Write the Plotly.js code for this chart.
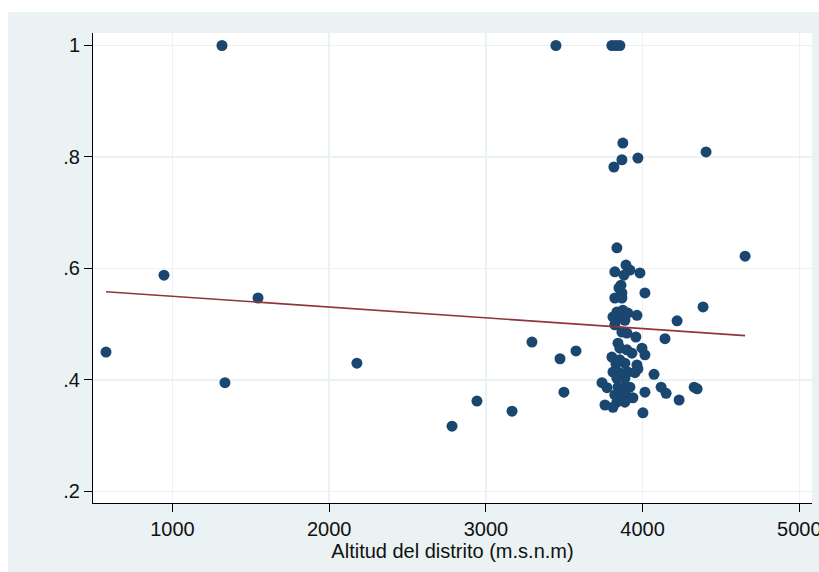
<!DOCTYPE html>
<html>
<head>
<meta charset="utf-8">
<script src="https://cdn.plot.ly/plotly-3.0.1.min.js"></script>
<style>
  html, body { margin: 0; padding: 0; background: #ffffff; overflow: hidden; }
  #chart { position: absolute; left: 8px; top: 12px; width: 840px; height: 560px; }
</style>
</head>
<body>
<div id="chart"></div>
<script>
// altitud del distrito (m.s.n.m) y proporcion observada
const altitud = [
    576, 946, 1316, 1335, 1546, 2177, 2784, 2943, 3167, 3294,
    3447, 3473, 3498, 3575, 3804, 3830, 3855, 3874, 3817, 3868,
    3970, 4405, 3836, 4654, 3894, 3919, 3823, 3881, 3983, 3862,
    3849, 3868, 4015, 3823, 3868, 3836, 3874, 3906, 3964, 3811,
    3855, 3887, 3823, 4386, 4220, 3868, 3900, 3957, 4143, 3843,
    3855, 3900, 3932, 3996, 4015, 3804, 3855, 3887, 3830, 3964,
    3970, 3811, 3855, 3906, 3951, 4073, 3836, 3887, 3741, 3773,
    3843, 3887, 3919, 4118, 4329, 4348, 4015, 4150, 3823, 3868,
    3906, 3938, 3836, 3887, 4233, 3760, 3811, 4002
];
const proporcion = [
    0.450, 0.588, 1.000, 0.395, 0.547, 0.430, 0.317, 0.362, 0.344, 0.468,
    1.000, 0.438, 0.378, 0.452, 1.000, 1.000, 1.000, 0.825, 0.782, 0.795,
    0.798, 0.809, 0.637, 0.622, 0.606, 0.597, 0.594, 0.588, 0.592, 0.570,
    0.565, 0.556, 0.556, 0.547, 0.547, 0.522, 0.525, 0.520, 0.516, 0.513,
    0.511, 0.507, 0.499, 0.531, 0.506, 0.486, 0.484, 0.477, 0.474, 0.466,
    0.457, 0.454, 0.448, 0.457, 0.445, 0.441, 0.436, 0.430, 0.429, 0.427,
    0.420, 0.414, 0.413, 0.414, 0.413, 0.410, 0.403, 0.403, 0.395, 0.386,
    0.387, 0.386, 0.387, 0.387, 0.387, 0.384, 0.378, 0.376, 0.373, 0.373,
    0.369, 0.368, 0.360, 0.360, 0.364, 0.355, 0.351, 0.341
];

// recta ajustada (lfit)
const fitX = [576, 4654];
const fitY = [0.5583, 0.4794];

const xTicks = [1000, 2000, 3000, 4000, 5000];
const yTicks = [0.2, 0.4, 0.6, 0.8, 1];
const yTickText = ['.2', '.4', '.6', '.8', '1'];

const traces = [
    {
        x: altitud, y: proporcion,
        type: 'scatter', mode: 'markers',
        marker: { size: 11, color: '#1a476f', line: { width: 0 } },
        hoverinfo: 'x+y'
    },
    {
        x: fitX, y: fitY,
        type: 'scatter', mode: 'lines',
        line: { color: '#90353b', width: 1.6 },
        hoverinfo: 'skip'
    }
];

const layout = {
    width: 840,
    height: 560,
    margin: { l: 85, r: 36, t: 21, b: 69, pad: 0 },
    paper_bgcolor: '#eaf2f3',
    plot_bgcolor: '#ffffff',
    showlegend: false,
    font: { family: 'Liberation Sans, Arial, sans-serif', size: 20, color: '#111111' },
    xaxis: {
        range: [493, 5081],
        tickvals: xTicks,
        ticks: 'outside', ticklen: 8, tickwidth: 1, tickcolor: '#000',
        ticklabeloverflow: 'allow',
        showline: true, linecolor: '#000', linewidth: 1,
        showgrid: true, gridcolor: '#eaf2f3', gridwidth: 1.5,
        zeroline: false,
        tickfont: { size: 20 },
        title: { text: 'Altitud del distrito (m.s.n.m)', font: { size: 20 }, standoff: 0 }
    },
    yaxis: {
        range: [0.1792, 1.0224],
        tickvals: yTicks,
        ticktext: yTickText,
        ticks: 'outside', ticklen: 8, tickwidth: 1, tickcolor: '#000',
        showline: true, linecolor: '#000', linewidth: 1,
        showgrid: true, gridcolor: '#eaf2f3', gridwidth: 1.5,
        zeroline: false,
        tickfont: { size: 20 }
    },
    shapes: [
        // white band to the right of the plot area, as in the original frame
        { type: 'rect', xref: 'paper', yref: 'paper', x0: 1, x1: 1.0001, y0: 0, y1: 1,
          line: { width: 0 }, fillcolor: 'rgba(0,0,0,0)' }
    ]
};

Plotly.newPlot('chart', traces, layout, { displayModeBar: false, staticPlot: true });
</script>
</body>
</html>
